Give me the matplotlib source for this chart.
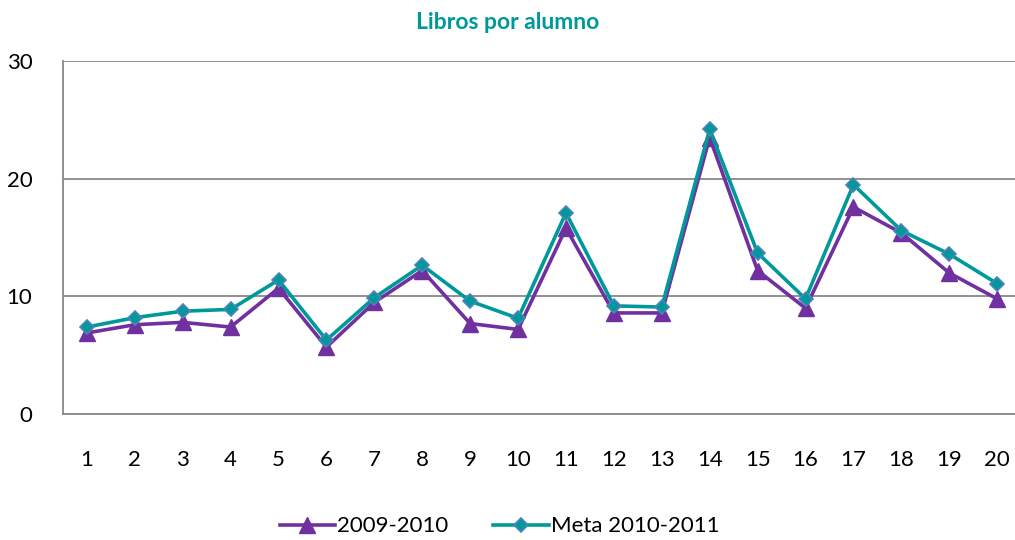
import numpy as np
import matplotlib.pyplot as plt

plt.rcParams['font.family'] = ['Lato', 'DejaVu Sans']

x = np.arange(1, 21)
serie_2009 = [6.9, 7.6, 7.8, 7.4, 10.7, 5.7, 9.5, 12.2, 7.7, 7.2,
              15.8, 8.6, 8.6, 23.5, 12.2, 9.0, 17.6, 15.4, 12.0, 9.8]
meta_2010 = [7.4, 8.2, 8.75, 8.9, 11.4, 6.3, 9.9, 12.65, 9.6, 8.15,
             17.1, 9.2, 9.1, 24.2, 13.7, 9.8, 19.5, 15.6, 13.6, 11.1]

fig = plt.figure(figsize=(10.15, 5.4), dpi=100)
ax = fig.add_axes([0.062, 0.233, 0.944, 0.654])

ax.plot(x, serie_2009, color='#7030A0', lw=2.6, marker='^', ms=11,
        mfc='#7030A0', mec='#7030A0', label='2009-2010', zorder=3)
ax.plot(x, meta_2010, color='#009999', lw=2.6, marker='D', ms=7.5,
        mfc='#009999', mec='#4F81BD', mew=1.2, label='Meta 2010-2011', zorder=4)

ax.set_xlim(0.5, 20.5)
ax.set_ylim(0, 30)
ax.set_yticks([0, 10, 20, 30])
ax.set_xticks(x)
ax.grid(axis='y', color='#888888', lw=1.3)
ax.set_axisbelow(True)
for s in ['top', 'right']:
    ax.spines[s].set_visible(False)
for s in ['left', 'bottom']:
    ax.spines[s].set_color('#888888')
    ax.spines[s].set_linewidth(1.3)
ax.tick_params(axis='both', length=0, labelsize=16, colors='black')
ax.tick_params(axis='x', pad=26)
ax.tick_params(axis='y', pad=22)

fig.text(0.5, 0.958, 'Libros por alumno', ha='center', va='center',
         fontsize=16.5, fontweight='bold', color='#009999')

fig.legend(loc='center', bbox_to_anchor=(0.492, 0.025), ncol=2, frameon=False,
           fontsize=16, handlelength=2.5, columnspacing=2.0, handletextpad=0.1)

fig.savefig('out.png', dpi=100)
